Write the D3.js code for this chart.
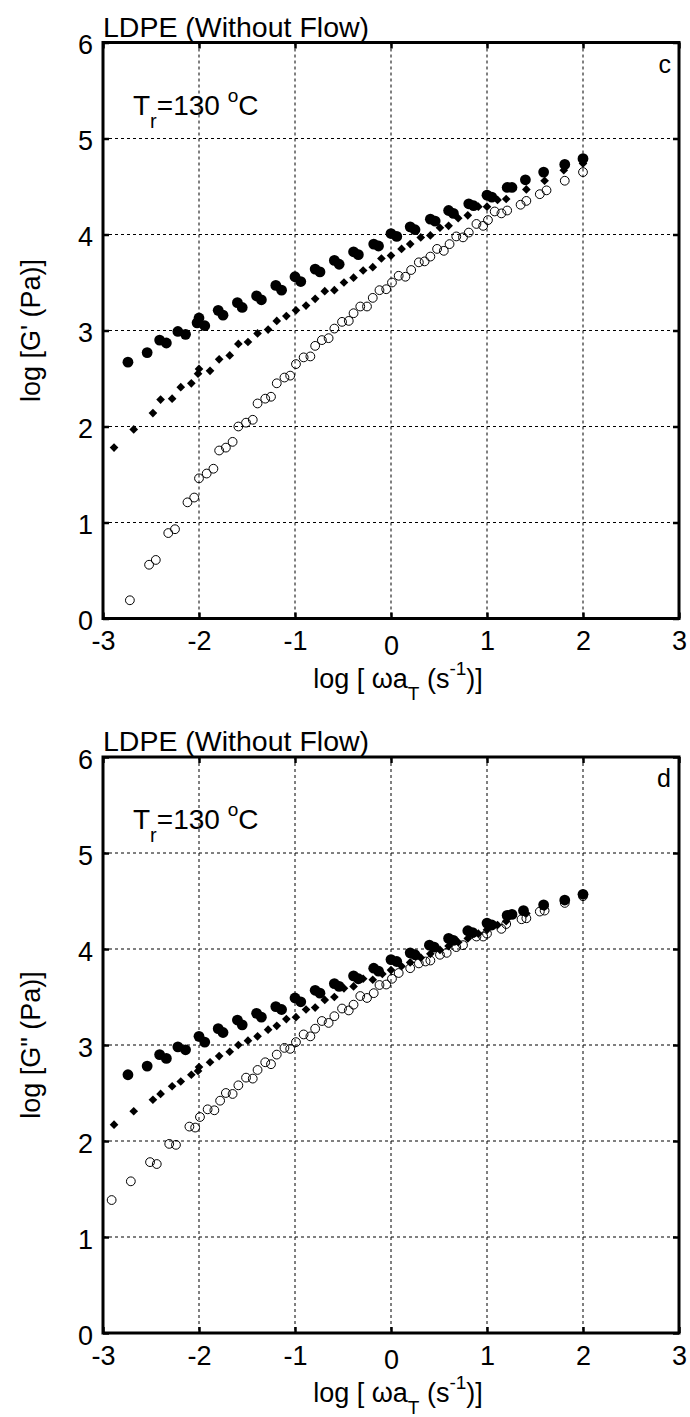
<!DOCTYPE html>
<html><head><meta charset="utf-8">
<script src="https://cdn.jsdelivr.net/npm/d3@7"></script>
<style>
html,body{margin:0;padding:0;background:#fff;}
text{font-family:"Liberation Sans",Arial,Helvetica,sans-serif;fill:#000;}
</style></head>
<body><svg id="chart" width="690" height="1417"></svg>
<script>
// ---------- data ----------
const xTicks = [-3,-2,-1,0,1,2,3];
const yTicks = [0,1,2,3,4,5,6];
const gridX = [-2,-1,0,1,2];
const gridY = [1,2,3,4,5];

// Panel c : log G'
const gpFilledX = [-2.74,-2.54,-2.41,-2.34,-2.22,-2.14,-2.02,-2.0,-1.94,-1.80,-1.75,-1.60,-1.55,-1.40,-1.35,-1.20,-1.14,-1.0,-0.94,-0.79,-0.74,-0.59,-0.54,-0.39,-0.34,-0.18,-0.13,0.0,0.06,0.2,0.25,0.41,0.46,0.6,0.65,0.81,0.86,1.0,1.05,1.21,1.26,1.4,1.59,1.81,2.0];
const gpFilledY = [2.67,2.77,2.90,2.87,2.99,2.96,3.08,3.13,3.05,3.21,3.16,3.29,3.24,3.36,3.32,3.47,3.42,3.56,3.51,3.64,3.61,3.73,3.69,3.82,3.79,3.90,3.88,4.01,3.98,4.08,4.05,4.16,4.14,4.25,4.22,4.32,4.30,4.41,4.39,4.49,4.49,4.57,4.65,4.73,4.79];
const gpDiamondX = [-2.885,-2.68,-2.48,-2.40,-2.28,-2.19,-2.08,-2.01,-2.0,-1.885,-1.79,-1.68,-1.59,-1.49,-1.39,-1.28,-1.19,-1.09,-0.99,-0.885,-0.79,-0.69,-0.59,-0.49,-0.39,-0.29,-0.19,-0.1,0.0,0.11,0.2,0.31,0.41,0.51,0.6,0.7,0.8,0.91,1.0,1.11,1.2,1.41,1.6,1.8,2.0];
const gpDiamondY = [1.78,1.97,2.14,2.28,2.29,2.41,2.45,2.55,2.60,2.58,2.70,2.74,2.86,2.88,2.97,3.01,3.10,3.15,3.21,3.26,3.33,3.41,3.42,3.50,3.55,3.625,3.66,3.75,3.78,3.85,3.90,3.97,3.99,4.07,4.09,4.17,4.20,4.29,4.29,4.36,4.37,4.47,4.56,4.67,4.74];
const gpOpenX = [-2.72,-2.52,-2.45,-2.32,-2.25,-2.12,-2.05,-2.0,-1.92,-1.85,-1.79,-1.72,-1.65,-1.59,-1.51,-1.44,-1.39,-1.31,-1.25,-1.19,-1.11,-1.05,-0.99,-0.91,-0.84,-0.79,-0.72,-0.65,-0.59,-0.51,-0.44,-0.39,-0.32,-0.25,-0.19,-0.12,-0.05,0.01,0.08,0.15,0.21,0.29,0.35,0.41,0.48,0.55,0.61,0.68,0.75,0.81,0.89,0.96,1.01,1.08,1.15,1.21,1.35,1.41,1.55,1.62,1.81,2.0];
const gpOpenY = [0.19,0.56,0.61,0.89,0.93,1.21,1.26,1.46,1.51,1.56,1.75,1.78,1.84,2.0,2.04,2.07,2.24,2.29,2.31,2.45,2.51,2.53,2.65,2.72,2.73,2.84,2.90,2.92,3.02,3.09,3.10,3.18,3.25,3.25,3.34,3.42,3.43,3.50,3.57,3.56,3.63,3.71,3.72,3.77,3.85,3.83,3.90,3.98,3.97,4.02,4.11,4.09,4.15,4.24,4.22,4.25,4.31,4.35,4.42,4.46,4.56,4.65];

// Panel d : log G''
const gppFilledX = [-2.74,-2.54,-2.41,-2.34,-2.22,-2.14,-2.0,-1.94,-1.80,-1.75,-1.60,-1.55,-1.40,-1.35,-1.20,-1.14,-1.0,-0.94,-0.79,-0.74,-0.59,-0.54,-0.39,-0.34,-0.18,-0.13,0.0,0.06,0.2,0.25,0.4,0.45,0.6,0.65,0.8,0.85,1.0,1.05,1.21,1.26,1.38,1.59,1.81,2.0];
const gppFilledY = [2.69,2.78,2.90,2.86,2.98,2.95,3.09,3.03,3.17,3.13,3.26,3.21,3.33,3.29,3.40,3.37,3.49,3.45,3.57,3.54,3.64,3.61,3.72,3.69,3.80,3.77,3.89,3.87,3.96,3.94,4.04,4.02,4.11,4.09,4.19,4.17,4.27,4.25,4.35,4.36,4.40,4.46,4.51,4.57];
const gppDiamondX = [-2.885,-2.68,-2.48,-2.40,-2.28,-2.19,-2.08,-2.01,-2.0,-1.885,-1.79,-1.68,-1.59,-1.49,-1.39,-1.28,-1.19,-1.09,-0.99,-0.885,-0.79,-0.69,-0.59,-0.49,-0.39,-0.29,-0.19,-0.09,0.0,0.11,0.2,0.31,0.41,0.51,0.6,0.7,0.8,0.91,1.0,1.11,1.2,1.41,1.6,1.8,2.0];
const gppDiamondY = [2.17,2.31,2.43,2.49,2.57,2.62,2.69,2.73,2.77,2.82,2.885,2.93,3.0,3.045,3.09,3.16,3.20,3.27,3.29,3.37,3.39,3.47,3.50,3.59,3.61,3.69,3.68,3.74,3.78,3.82,3.86,3.91,3.95,3.99,4.03,4.07,4.11,4.16,4.2,4.25,4.29,4.37,4.44,4.5,4.56];
const gppOpenX = [-2.91,-2.71,-2.51,-2.44,-2.31,-2.24,-2.10,-2.04,-1.99,-1.91,-1.84,-1.78,-1.72,-1.65,-1.59,-1.51,-1.44,-1.39,-1.31,-1.25,-1.19,-1.11,-1.05,-0.99,-0.91,-0.84,-0.79,-0.72,-0.65,-0.59,-0.51,-0.44,-0.39,-0.32,-0.25,-0.18,-0.12,-0.05,0.01,0.08,0.2,0.29,0.36,0.41,0.51,0.58,0.68,0.75,0.89,0.96,1.0,1.15,1.2,1.36,1.41,1.55,1.6,1.81,2.0];
const gppOpenY = [1.385,1.58,1.78,1.76,1.97,1.96,2.15,2.14,2.25,2.33,2.32,2.42,2.50,2.49,2.58,2.66,2.65,2.74,2.82,2.80,2.90,2.97,2.96,3.03,3.11,3.09,3.17,3.25,3.23,3.30,3.38,3.36,3.42,3.51,3.49,3.54,3.625,3.63,3.69,3.75,3.80,3.85,3.87,3.88,3.94,3.96,4.02,4.04,4.13,4.13,4.16,4.21,4.26,4.31,4.32,4.39,4.40,4.48,4.55];

const panels = [
  {title:"LDPE (Without Flow)", letter:"c", ylab:"log [G' (Pa)]",
   open:[gpOpenX,gpOpenY], diamond:[gpDiamondX,gpDiamondY], filled:[gpFilledX,gpFilledY]},
  {title:"LDPE (Without Flow)", letter:"d", ylab:"log [G\" (Pa)]",
   open:[gppOpenX,gppOpenY], diamond:[gppDiamondX,gppDiamondY], filled:[gppFilledX,gppFilledY]}
];

// ---------- layout ----------
const svg = d3.select("#chart");
const L = 103, R = 679;
const tops = [42.5, 757];
const H = 576;
const x = d3.scaleLinear().domain([-3,3]).range([L,R]);
const zip = (a,b) => a.map((v,i)=>[v,b[i]]);
const fmt = d => String(d);

panels.forEach((p, pi) => {
  const top = tops[pi], bot = top + H;
  const y = d3.scaleLinear().domain([0,6]).range([bot, top]);
  const g = svg.append("g");

  // grid
  g.append("g").selectAll("line").data(gridX).join("line")
    .attr("x1", d=>x(d)).attr("x2", d=>x(d)).attr("y1", top).attr("y2", bot)
    .attr("stroke","#000").attr("stroke-width",1).attr("stroke-dasharray","3,3");
  g.append("g").selectAll("line").data(gridY).join("line")
    .attr("y1", d=>y(d)).attr("y2", d=>y(d)).attr("x1", L).attr("x2", R)
    .attr("stroke","#000").attr("stroke-width",1).attr("stroke-dasharray","3,3");

  // markers
  g.append("g").selectAll("circle").data(zip(p.open[0],p.open[1])).join("circle")
    .attr("cx", d=>x(d[0])).attr("cy", d=>y(d[1])).attr("r",4.4)
    .attr("fill","none").attr("stroke","#000").attr("stroke-width",1);
  const dia = d3.symbol().type(d3.symbolDiamond2).size(48);
  g.append("g").selectAll("path").data(zip(p.diamond[0],p.diamond[1])).join("path")
    .attr("d", dia).attr("transform", d=>`translate(${x(d[0])},${y(d[1])})`)
    .attr("fill","#000");
  g.append("g").selectAll("circle").data(zip(p.filled[0],p.filled[1])).join("circle")
    .attr("cx", d=>x(d[0])).attr("cy", d=>y(d[1])).attr("r",5.4)
    .attr("fill","#000");

  // axes
  const fs = "27px";
  const ax = g.append("g").attr("transform",`translate(0,${bot})`)
    .call(d3.axisBottom(x).tickValues(xTicks).tickSize(-6).tickPadding(13).tickFormat(fmt));
  ax.selectAll("text").style("font-size",fs).attr("dy", d => d===0 ? "0.86em" : "0.7em");
  g.append("g").attr("transform",`translate(0,${top})`)
    .call(d3.axisTop(x).tickValues(xTicks).tickSize(-6).tickFormat(""));
  const ay = g.append("g").attr("transform",`translate(${L},0)`)
    .call(d3.axisLeft(y).tickValues(yTicks).tickSize(-6).tickPadding(10).tickFormat(fmt));
  ay.selectAll("text").style("font-size",fs).attr("dy","0.42em");
  g.append("g").attr("transform",`translate(${R},0)`)
    .call(d3.axisRight(y).tickValues(yTicks).tickSize(-6).tickFormat(""));
  g.selectAll(".domain").remove();
  g.selectAll(".tick line").attr("stroke","#000").attr("stroke-width",2.5);

  // frame
  g.append("rect").attr("x",L).attr("y",top).attr("width",R-L).attr("height",H)
    .attr("fill","none").attr("stroke","#000").attr("stroke-width",3);

  // texts
  g.append("text").attr("x",L).attr("y",top-6).style("font-size","28.5px").text(p.title);
  g.append("text").attr("x",671).attr("y",top+30).attr("text-anchor","end")
    .style("font-size","25px").text(p.letter);

  const tr = g.append("text").attr("x",133).attr("y",top+72).style("font-size","28px");
  tr.append("tspan").text("T");
  tr.append("tspan").attr("dy",13).style("font-size","20px").text("r");
  tr.append("tspan").attr("dy",-13).text("=130 ");
  tr.append("tspan").attr("dy",-13).style("font-size","19px").text("o");
  tr.append("tspan").attr("dy",13).text("C");

  const xt = g.append("text").attr("x",398).attr("y",bot+69).attr("text-anchor","middle").style("font-size","27px");
  xt.append("tspan").text("log [ ωa");
  xt.append("tspan").attr("dy",12).style("font-size","19px").text("T");
  xt.append("tspan").attr("dy",-12).text(" (s");
  xt.append("tspan").attr("dy",-13).style("font-size","19px").text("-1");
  xt.append("tspan").attr("dy",13).text(")]");

  g.append("text").attr("transform",`translate(40,${(top+bot)/2}) rotate(-90)`)
    .attr("text-anchor","middle").style("font-size","27px").text(p.ylab);
});
</script></body></html>
